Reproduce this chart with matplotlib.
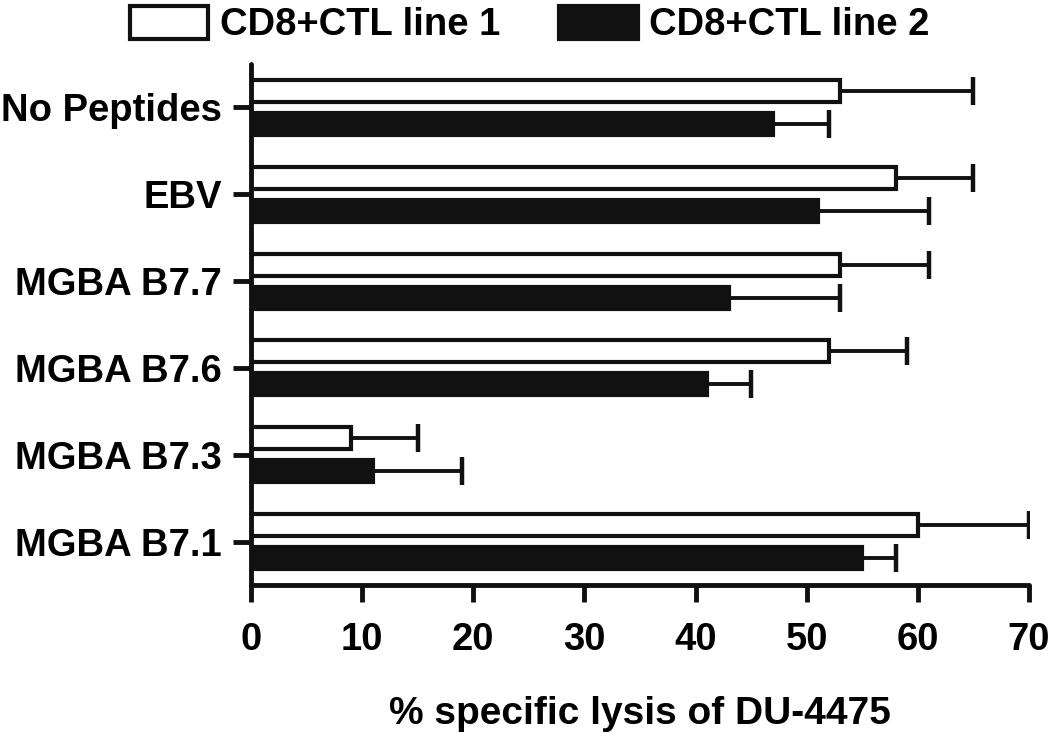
import matplotlib
matplotlib.use("Agg")
import matplotlib.pyplot as plt
import numpy as np

categories = ["No Peptides", "EBV", "MGBA B7.7", "MGBA B7.6", "MGBA B7.3", "MGBA B7.1"]
line1 = [53, 58, 53, 52, 9, 60]
line1_err = [12, 7, 8, 7, 6, 10]
line2 = [47, 51, 43, 41, 11, 55]
line2_err = [5, 10, 10, 4, 8, 3]
series_names = ["CD8+CTL line 1", "CD8+CTL line 2"]
xticks = [0, 10, 20, 30, 40, 50, 60, 70]
xlabel = "% specific lysis of DU-4475"

plt.rcParams['font.family'] = ['Liberation Sans', 'DejaVu Sans']
plt.rcParams['font.weight'] = 'bold'

fig = plt.figure(figsize=(10.5, 7.33), dpi=100)
ax = fig.add_axes([251/1050, 1 - 585/733, (1029 - 251)/1050, (585 - 64)/733])

y = np.arange(len(categories))
h = 0.255
off = 0.19
lw = 3.0
dark = '#111111'

ax.barh(y - off, line1, height=h, color='white', edgecolor=dark, linewidth=lw,
        label=series_names[0], zorder=2)
ax.barh(y + off, line2, height=h, color=dark, edgecolor=dark, linewidth=lw,
        label=series_names[1], zorder=2)

for vals, errs, yy in [(line1, line1_err, y - off), (line2, line2_err, y + off)]:
    _, caps, _ = ax.errorbar(vals, yy, xerr=[np.zeros(len(vals)), errs], fmt='none',
                             ecolor=dark, elinewidth=2.8, capsize=10, capthick=3.2,
                             zorder=1)
    # hide the cap that sits at the bar end (lower side of the one-sided error)
    for c in caps:
        if np.allclose(c.get_xdata(), vals):
            c.set_visible(False)

ax.set_xlim(0, 70)
ax.set_ylim(5.5, -0.5)
ax.set_yticks(y)
ax.set_yticklabels(categories, fontsize=27.5, fontweight='bold')
ax.set_xticks(xticks)
ax.set_xticklabels([str(t) for t in xticks], fontsize=27.5, fontweight='bold')

for s in ['top', 'right']:
    ax.spines[s].set_visible(False)
for s in ['left', 'bottom']:
    ax.spines[s].set_linewidth(3.5)
    ax.spines[s].set_color(dark)
    ax.spines[s].set_capstyle('round')

ax.tick_params(axis='x', length=12, width=3.5, pad=15, color=dark)
ax.tick_params(axis='y', length=13, width=3.5, pad=8, color=dark)

ax.set_xlabel(xlabel, fontsize=28, fontweight='bold', labelpad=27)

fig.legend(loc='upper left', bbox_to_anchor=(130/1050, 0.992), ncol=2, frameon=False,
           handlelength=2.05, handleheight=0.95, handletextpad=0.3,
           columnspacing=1.55, borderpad=0, borderaxespad=0,
           prop={'weight': 'bold', 'size': 27.5})

fig.savefig("out.png", dpi=100)
